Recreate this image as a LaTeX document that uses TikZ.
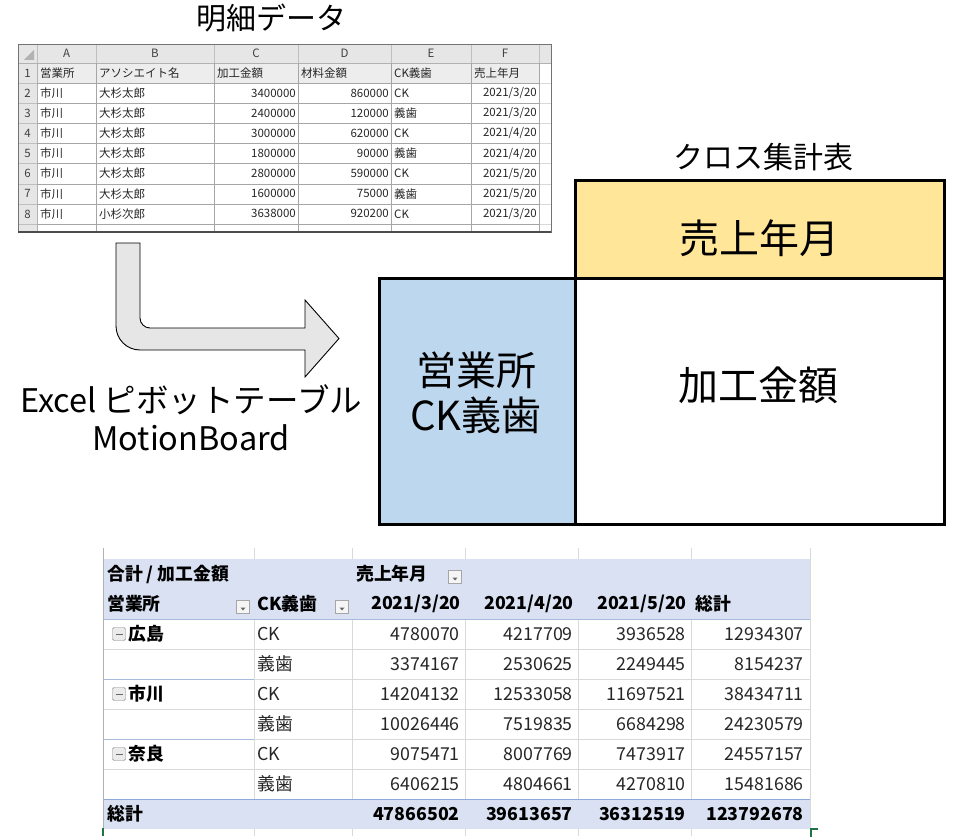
\documentclass[tikz,border=0pt]{standalone}
\usepackage{fontspec}
\setmainfont{Noto Sans CJK JP}
\definecolor{yel}{HTML}{FFE699}
\definecolor{blu}{HTML}{BDD7EE}
\definecolor{pvh}{HTML}{D9E1F2}
\definecolor{pvl}{HTML}{8EA9DB}
\definecolor{pvg}{HTML}{A9BBDC}
\definecolor{gridc}{HTML}{D9D9D9}
\definecolor{xlgreen}{HTML}{217346}
\definecolor{hdr}{HTML}{E6E6E6}
\definecolor{rowone}{HTML}{EDEDED}
\definecolor{cellline}{HTML}{A6A6A6}
\definecolor{tabtext}{HTML}{262626}
\definecolor{arrfill}{HTML}{E7E6E6}
\newcommand\tabfont{\fontsize{11.5}{13}\selectfont}
\newcommand\pvfont{\fontsize{17.8}{20}\selectfont}
\begin{document}
\begin{tikzpicture}[x=1pt,y=-1pt,
  title/.style={inner sep=0, font=\fontsize{30}{34}\selectfont},
  bigtxt/.style={inner sep=0, font=\fontsize{40}{45}\selectfont},
  captxt/.style={inner sep=0, font=\fontsize{32.5}{36}\selectfont},
  cellL/.style={anchor=west, inner sep=0, font=\tabfont, text=tabtext},
  cellR/.style={anchor=east, inner sep=0, font=\tabfont, text=tabtext},
  colhd/.style={inner sep=0, font=\tabfont, text=black!75},
  pvL/.style={anchor=west, inner sep=0, font=\pvfont, text=tabtext},
  pvR/.style={anchor=east, inner sep=0, font=\pvfont, text=tabtext},
  pvLb/.style={anchor=west, inner sep=0, font=\pvfont\bfseries, text=black},
  pvRb/.style={anchor=east, inner sep=0, font=\pvfont\bfseries, text=black},
  crossbox/.style={draw=black, line width=2.6pt, inner sep=0, anchor=north west},
  ddbtn/.style={draw=black!35, fill=white!96!black, minimum width=13pt, minimum height=13pt, inner sep=0},
  colbtn/.style={draw=black!50, fill=black!8, rounded corners=1.5pt, minimum width=13pt, minimum height=13pt, inner sep=0}
]
\useasboundingbox (0,0) rectangle (966,837);

% ---------- titles ----------
\node[title] (ttl1) at (271,18) {明細データ};
\node[title] (ttl2) at (763,157) {クロス集計表};

% ---------- top spreadsheet ----------
\fill[hdr] (18,44) rectangle (551,63);
\fill[hdr] (18,63) rectangle (37,232);
\fill[rowone] (37,63) rectangle (539,83);
\fill[black!30] (24,60) -- (34,60) -- (34,50) -- cycle;
\foreach \x in {96,214,298,391,471,539}
  \draw[black!25] (\x,44) -- (\x,63);
\draw[black!25] (37,44) -- (37,63);
\foreach \k in {1,...,8}
  \draw[black!25] (18,63+20.125*\k) -- (37,63+20.125*\k);
\draw[black!30] (18,63) -- (551,63);
\draw[black!30] (37,63) -- (37,232);
\foreach \k in {1,...,8}
  \draw[cellline] (37,63+20.125*\k) -- (539,63+20.125*\k);
\foreach \k in {1,...,8}
  \draw[black!15] (539,63+20.125*\k) -- (551,63+20.125*\k);
\foreach \x in {96,214,298,391,471,539}
  \draw[cellline] (\x,63) -- (\x,232);
\draw[black!55] (18,44) rectangle (551,232);
\draw[black!70, line width=1.2pt] (18,232) -- (551,232);

\foreach \c/\x in {A/66.5,B/155,C/256,D/344.5,E/431,F/505}
  \node[colhd] (h\c) at (\x,53.5) {\c};
\foreach \r in {1,...,8}
  \node[colhd] (rn\r) at (27.5,63+20.125*\r-10) {\r};

\node[cellL] (d1a) at (40,73) {営業所};
\node[cellL] (d1b) at (99,73) {アソシエイト名};
\node[cellL] (d1c) at (217,73) {加工金額};
\node[cellL] (d1d) at (301,73) {材料金額};
\node[cellL] (d1e) at (394,73) {CK義歯};
\node[cellL] (d1f) at (474,73) {売上年月};

\foreach \r/\a/\b/\c/\d/\e/\m in {2/市川/大杉太郎/3400000/860000/CK/3,
  3/市川/大杉太郎/2400000/120000/義歯/3,
  4/市川/大杉太郎/3000000/620000/CK/4,
  5/市川/大杉太郎/1800000/90000/義歯/4,
  6/市川/大杉太郎/2800000/590000/CK/5,
  7/市川/大杉太郎/1600000/75000/義歯/5,
  8/市川/小杉次郎/3638000/920200/CK/3}{
  \pgfmathsetmacro\yc{63+20.125*(\r-1)+10}
  \node[cellL] (d\r a) at (40,\yc) {\a};
  \node[cellL] (d\r b) at (99,\yc) {\b};
  \node[cellR] (d\r c) at (296,\yc) {\c};
  \node[cellR] (d\r d) at (389,\yc) {\d};
  \node[cellL] (d\r e) at (394,\yc) {\e};
  \node[cellR] (d\r f) at (537,\yc) {2021/\m/20};
}

% ---------- bent block arrow ----------
\draw[fill=arrfill, line width=0.9pt, line join=miter]
  (116,243) -- (140,243) -- (140,318)
  .. controls (140,323.5) and (144.5,328) .. (150,328)
  -- (305,328) -- (305,300) -- (339,338.5) -- (305,377) -- (305,350)
  -- (140,350) .. controls (126.75,350) and (116,339.25) .. (116,326)
  -- cycle;

\node[captxt] (cap1) at (191,400) {Excel ピボットテーブル};
\node[captxt] (cap2) at (191,438) {MotionBoard};

% ---------- cross table diagram ----------
\node[crossbox, fill=yel, minimum width=369pt, minimum height=98pt] (ybox) at (574,179) {};
\node[crossbox, fill=blu, minimum width=196pt, minimum height=246pt] (bbox) at (378,277) {};
\node[crossbox, fill=white, minimum width=369pt, minimum height=246pt] (wbox) at (574,277) {};
\node[bigtxt] (ytxt) at (759,238) {売上年月};
\node[bigtxt] (btxt1) at (476,370) {営業所};
\node[bigtxt] (btxt2) at (476,415) {CK義歯};
\node[bigtxt] (wtxt) at (758,385) {加工金額};

% ---------- pivot table ----------
\foreach \x in {254,352,465,578,691,810}
  \draw[gridc] (\x,548) -- (\x,836);
\foreach \y in {649,679,709,739,769}
  \draw[gridc] (254,\y) -- (810,\y);
\draw[gridc] (103,649) -- (254,649);
\draw[gridc] (103,709) -- (254,709);
\draw[gridc] (103,769) -- (254,769);
\draw[pvg, line width=0.8pt] (103,679) -- (254,679);
\draw[pvg, line width=0.8pt] (103,739) -- (254,739);
\fill[pvh] (103,559) rectangle (810,619);
\fill[pvh] (103,799) rectangle (810,829);
\draw[pvg, line width=0.8pt] (103,619) -- (810,619);
\draw[pvl, line width=0.8pt] (103,799) -- (810,799);
\draw[black!30] (103,548) -- (103,828);
\draw[xlgreen, line width=1.6pt] (103,828) -- (103,836);
\draw[xlgreen, line width=2pt] (818,829) -- (811,829) -- (811,837);

\node[pvLb] (p00) at (107,574) {合計 / 加工金額};
\node[pvLb] (p01) at (356,574) {売上年月};
\node[ddbtn] (dd1) at (455,577) {};
\node[pvLb] (p10) at (107,604) {営業所};
\node[ddbtn] (dd2) at (243,607) {};
\node[pvLb] (p11) at (257,604) {CK義歯};
\node[ddbtn] (dd3) at (342,607) {};
\foreach \n in {dd1,dd2,dd3}
  \fill[black!60] ([xshift=-2.5pt,yshift=-0.5pt]\n.center) -- ([xshift=2.5pt,yshift=-0.5pt]\n.center) -- ([yshift=-3.5pt]\n.center) -- cycle;
\node[pvRb] (p12) at (461,604) {2021/3/20};
\node[pvRb] (p13) at (574,604) {2021/4/20};
\node[pvRb] (p14) at (687,604) {2021/5/20};
\node[pvLb] (p15) at (695,604) {総計};

\foreach \i/\g in {0/広島,2/市川,4/奈良}{
  \node[colbtn] (cb\i) at (119,634+30*\i) {};
  \draw[black!60, line width=0.9pt] ([xshift=-3.5pt]cb\i.center) -- ([xshift=3.5pt]cb\i.center);
  \node[pvLb] (g\i) at (128,634+30*\i) {\g};
}

\foreach \i/\k/\a/\b/\c/\t in {0/CK/4780070/4217709/3936528/12934307,
  1/義歯/3374167/2530625/2249445/8154237,
  2/CK/14204132/12533058/11697521/38434711,
  3/義歯/10026446/7519835/6684298/24230579,
  4/CK/9075471/8007769/7473917/24557157,
  5/義歯/6406215/4804661/4270810/15481686}{
  \node[pvL] (k\i) at (257,634+30*\i) {\k};
  \node[pvR] (v\i a) at (460,634+30*\i) {\a};
  \node[pvR] (v\i b) at (573,634+30*\i) {\b};
  \node[pvR] (v\i c) at (686,634+30*\i) {\c};
  \node[pvR] (v\i d) at (804,634+30*\i) {\t};
}

\node[pvLb] (tot) at (107,814) {総計};
\node[pvRb] (tota) at (460,814) {47866502};
\node[pvRb] (totb) at (573,814) {39613657};
\node[pvRb] (totc) at (686,814) {36312519};
\node[pvRb] (totd) at (804,814) {123792678};
\end{tikzpicture}
\end{document}
